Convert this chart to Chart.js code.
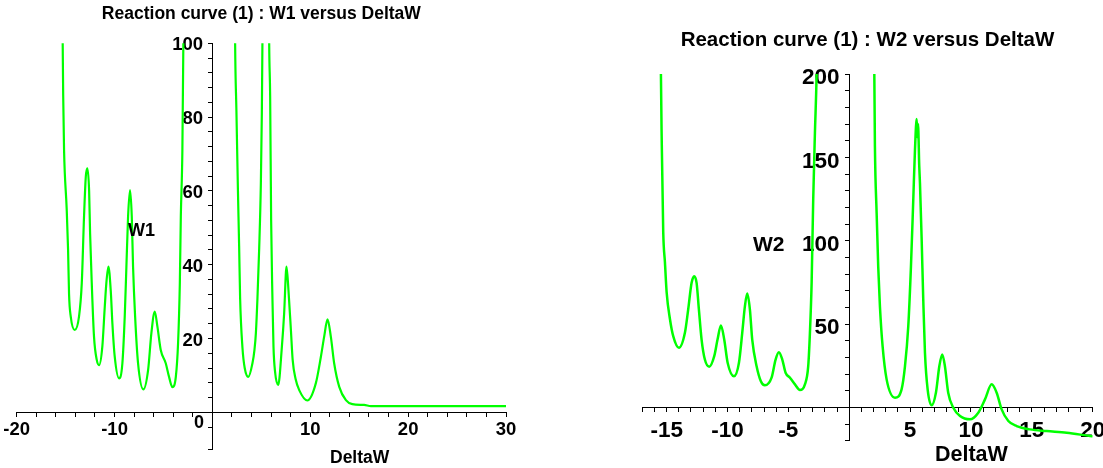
<!DOCTYPE html>
<html>
<head>
<meta charset="utf-8">
<script src="https://cdn.jsdelivr.net/npm/chart.js@4"></script>
<style>
  body { margin: 0; background: #fff; width: 1103px; height: 468px; overflow: hidden; position: relative; }
  .box { position: absolute; }
  .lbl { position: absolute; font-family: "Liberation Sans", Arial, sans-serif; font-weight: bold; line-height: 1; color: #000; white-space: nowrap; }
</style>
</head>
<body>
<div class="box" style="left:0;top:0;width:540px;height:468px;"><canvas id="w1-chart"></canvas></div>
<div class="box" style="left:600px;top:0;width:503px;height:468px;"><canvas id="w2-chart"></canvas></div>

<div class="lbl" style="left:128px;top:221px;font-size:18px;">W1</div>
<div class="lbl" style="left:194px;top:413px;font-size:18px;">0</div>
<div class="lbl" style="left:330px;top:449px;font-size:17.5px;">DeltaW</div>
<div class="lbl" style="left:753px;top:233px;font-size:21px;">W2</div>
<div class="lbl" style="left:935px;top:444px;font-size:21.5px;">DeltaW</div>

<script>
// W1 curve (left plot), null = break between branches
const w1DeltaW = [
  -15.4, -15.3, -15.25, -15.16, -14.89, -14.75, -14.65, -14.48, -14.07, -13.63,
  -13.35, -13.12, -12.94, -12.78, -12.6, -12.5, -12.33, -12.1, -11.82, -11.58,
  -11.25, -11.0, -10.84, -10.63, -10.39, -10.22, -9.98, -9.54, -9.2, -8.96,
  -8.79, -8.62, -8.42, -8.24, -8.11, -7.9, -7.6, -7.06, -6.57, -6.24,
  -5.89, -5.62, -5.28, -4.77, -4.43, -4.09, -3.74, -3.51, -3.33, -3.23,
  -3.07, -2.97, -2.9,
  0,
  2.25, 2.32, 2.45, 2.6, 2.73, 2.83, 3.07, 3.3, 3.67, 4.09,
  4.3, 4.44, 4.6, 4.78, 4.95, 5.05, 5.11, 5.15, 5.45, 5.75,
  5.8, 5.9, 6.0, 6.13, 6.24, 6.4, 6.72, 7.1, 7.33, 7.57,
  7.77, 8.02, 8.2, 8.5, 8.87, 9.7, 10.57, 11.08, 11.42, 11.76,
  12.1, 12.44, 12.96, 13.64, 14.3, 15.5, 16.2, 30
];
const w1Values = [
  130, 100, 86, 71, 55, 44, 32, 26, 22.3, 26,
  35, 53, 63.8, 66.1, 60, 48.5, 35, 20.5, 14.2, 12.8,
  17.8, 28.6, 35, 39.5, 33, 24, 15, 9.2, 13.3, 26,
  39.5, 53, 60.2, 53, 39.5, 26, 13.3, 6.2, 11.5, 21.4,
  27.3, 23.2, 16.9, 13.3, 9.6, 6.8, 9.6, 18.7, 35, 53,
  71, 100, 130,
  null,
  130, 100, 82, 61, 45, 31, 17.5, 12, 9.6, 13.3,
  17, 21.4, 30.8, 44.5, 62, 81, 100, 120, 250, 120,
  100, 85.5, 52, 31.3, 17.8, 11, 7.4, 17.8, 26.8, 39.5,
  33.1, 22.3, 14.2, 9, 6.0, 3.2, 7.9, 15, 20.5, 25.2,
  20.5, 13.3, 6.9, 3.3, 2.2, 2.0, 1.7, 1.7
];

// W2 curve (right plot)
const w2DeltaW = [
  -15.5, -15.47, -15.4, -15.28, -15.14, -15.0, -14.73, -14.46, -13.99, -13.5,
  -13.23, -12.95, -12.74, -12.54, -12.35, -12.13, -11.86, -11.5, -11.09, -10.82,
  -10.54, -10.27, -9.99, -9.47, -9.06, -8.79, -8.57, -8.38, -8.16, -7.97,
  -7.61, -7.26, -6.93, -6.38, -6.05, -5.78, -5.5, -5.23, -4.87, -4.46,
  -4.05, -3.64, -3.37, -3.23, -3.09, -2.96, -2.82, -2.68, -2.6,
  0,
  1.98, 2.06, 2.11, 2.25, 2.38, 2.52, 2.74, 3.07, 3.76, 4.3,
  4.58, 4.85, 5.07, 5.26, 5.4, 5.54, 5.6, 5.65, 5.75, 5.81,
  5.95, 6.08, 6.22, 6.44, 6.77, 7.12, 7.4, 7.64, 7.86, 8.13,
  8.55, 9.1, 9.92, 10.6, 11.15, 11.7, 12.11, 12.52, 13.07, 13.75,
  14.85, 16.22, 17.86, 19.78, 20
];
const w2Values = [
  240, 200, 158, 105, 87, 69, 53, 42.7, 35.7, 44.7,
  58.7, 74.7, 78.6, 74.7, 58.7, 40.7, 28.7, 24.4, 30.7, 40.7,
  49.1, 40.7, 26.8, 18.7, 26.8, 44.7, 60.7, 68.3, 58.7, 40.7,
  24.7, 15.7, 13.2, 17.8, 28.7, 33.1, 28.7, 20.8, 17.8, 13.8,
  10.4, 13.8, 24.7, 44.7, 74.7, 124.6, 164.5, 200, 240,
  null,
  240, 200, 156.5, 116.6, 84.6, 60.7, 36.7, 16.8, 5.8, 10.8,
  24.7, 48.7, 84.6, 124.6, 154.5, 173, 162, 170, 145, 134.5,
  100.6, 64.7, 32.8, 10.8, 1.2, 8.8, 24.7, 31.7, 24.7, 8.8,
  -0.2, -5.2, -7.2, -3.2, 4.8, 13.8, 8.8, -1.2, -8.2, -11.2,
  -13.2, -14.2, -15.2, -17.2, -17.4
];

// Axis tick settings
const w1XRange = [-20, 30];
const w1YRange = [-10, 100];
const w1XLabels = [-20, -10, 10, 20, 30];
const w1YLabels = [20, 40, 60, 80, 100];
const w2XRange = [-17, 20];
const w2YRange = [-20, 200];
const w2XLabels = [-15, -10, -5, 5, 10, 15, 20];
const w2YLabels = [50, 100, 150, 200];

const FONT = '"Liberation Sans", Arial, sans-serif';
const toPoints = (xs, ys) => xs.map((x, i) => ({ x: x, y: ys[i] }));
const noPad = (s) => { s.paddingLeft = 0; s.paddingRight = 0; s.paddingTop = 0; s.paddingBottom = 0; };

// Build one Maple-style plot with axes crossing at the origin
function makePlot(canvasId, cfg) {
  const tickFont = { family: FONT, size: cfg.tickSize, weight: 'bold' };
  return new Chart(document.getElementById(canvasId), {
    type: 'scatter',
    data: {
      datasets: [{
        data: toPoints(cfg.xs, cfg.ys),
        showLine: true,
        borderColor: '#00ff00',
        borderWidth: cfg.lineWidth,
        pointRadius: 0,
        cubicInterpolationMode: 'monotone',
        spanGaps: false,
        clip: 0,
        yAxisID: 'y'
      }]
    },
    options: {
      responsive: true,
      maintainAspectRatio: false,
      animation: false,
      layout: { padding: cfg.padding },
      plugins: {
        legend: { display: false },
        tooltip: { enabled: false },
        title: {
          display: true,
          text: cfg.title,
          color: '#000',
          font: { family: FONT, size: cfg.titleSize, weight: 'bold', lineHeight: 1.2 },
          padding: cfg.titlePad
        }
      },
      scales: {
        x: {
          type: 'linear',
          min: cfg.xRange[0],
          max: cfg.xRange[1],
          position: { y: 0 },
          afterFit: noPad,
          border: { color: '#000', width: 1 },
          grid: { drawOnChartArea: false, color: '#000', tickLength: 4 },
          ticks: {
            stepSize: cfg.xStep,
            autoSkip: false,
            maxRotation: 0,
            padding: cfg.xTickPad,
            color: '#000',
            font: tickFont,
            callback: (v) => cfg.xLabels.includes(v) ? String(v) : ''
          }
        },
        // axis line and tick marks
        y: {
          type: 'linear',
          min: cfg.yRange[0],
          max: cfg.yRange[1],
          position: { x: 0 },
          afterFit: noPad,
          border: { color: '#000', width: 1 },
          grid: { drawOnChartArea: false, color: '#000', tickLength: 4 },
          ticks: { stepSize: cfg.yStep, autoSkip: false, callback: () => '' }
        },
        // tick labels, set a little left of the axis line
        yLabels: {
          type: 'linear',
          min: cfg.yRange[0],
          max: cfg.yRange[1],
          position: { x: cfg.yLabelX },
          afterFit: noPad,
          border: { display: false },
          grid: { display: false },
          ticks: {
            stepSize: cfg.yStep,
            autoSkip: false,
            labelOffset: cfg.yLabelOffset,
            color: '#000',
            font: tickFont,
            callback: (v) => cfg.yLabels.includes(v) ? String(v) : ''
          }
        }
      }
    }
  });
}

makePlot('w1-chart', {
  xs: w1DeltaW, ys: w1Values,
  title: 'Reaction curve (1) : W1 versus DeltaW',
  titleSize: 17.5, titlePad: { top: 3.5, bottom: 18.8 },
  padding: { left: 16.7, right: 34, top: 0, bottom: 18.8 },
  xRange: w1XRange, yRange: w1YRange, xStep: 2, yStep: 4,
  xLabels: w1XLabels, yLabels: w1YLabels,
  tickSize: 18.5, xTickPad: 3, yLabelX: -0.95, yLabelOffset: 2,
  lineWidth: 2.2
});

makePlot('w2-chart', {
  xs: w2DeltaW, ys: w2Values,
  title: 'Reaction curve (1) : W2 versus DeltaW',
  titleSize: 20.5, titlePad: { top: 27.7, bottom: 21.7 },
  padding: { left: 42.3, right: 10.3, top: 0, bottom: 27.3 },
  xRange: w2XRange, yRange: w2YRange, xStep: 1, yStep: 10,
  xLabels: w2XLabels, yLabels: w2YLabels,
  tickSize: 22.5, xTickPad: 6, yLabelX: -0.8, yLabelOffset: 4,
  lineWidth: 2.5
});
</script>
</body>
</html>
